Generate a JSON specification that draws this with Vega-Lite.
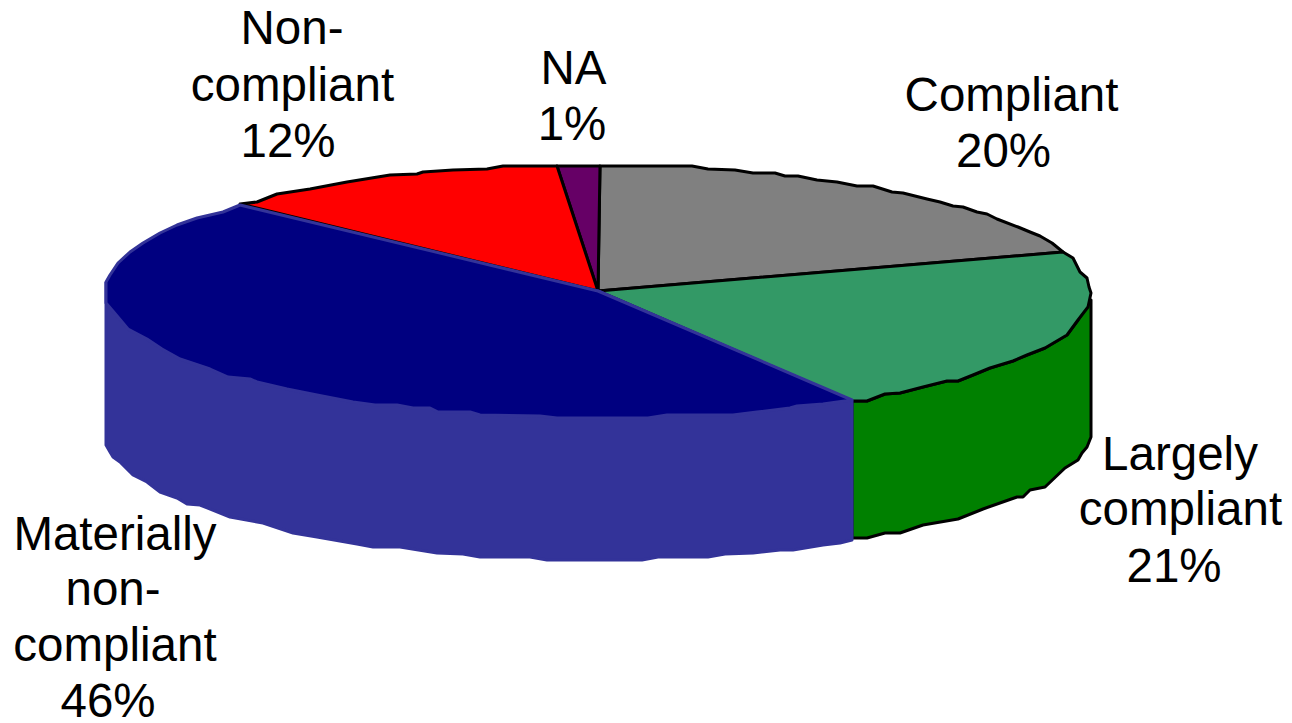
{"$schema":"https://vega.github.io/schema/vega-lite/v6.json","width":1292,"height":723,"padding":0,"autosize":{"type":"none"},"background":"white","view":{"stroke":null},"config":{"axis":{"grid":false}},"layer":[{"data":{"name":"outline","values":[
{"part":"Compliant top","x":598,"y":291},{"part":"Compliant top","x":600,"y":166},{"part":"Compliant top","x":692,"y":166},{"part":"Compliant top","x":708,"y":169},{"part":"Compliant top","x":735,"y":170},{"part":"Compliant top","x":753,"y":173},{"part":"Compliant top","x":775,"y":173},{"part":"Compliant top","x":785,"y":176},{"part":"Compliant top","x":798,"y":176},{"part":"Compliant top","x":817,"y":180},{"part":"Compliant top","x":837,"y":182},{"part":"Compliant top","x":857,"y":186},{"part":"Compliant top","x":873,"y":186},{"part":"Compliant top","x":892,"y":192},{"part":"Compliant top","x":903,"y":193},{"part":"Compliant top","x":927,"y":199},{"part":"Compliant top","x":940,"y":202},{"part":"Compliant top","x":953,"y":206},{"part":"Compliant top","x":963,"y":207},{"part":"Compliant top","x":977,"y":212},{"part":"Compliant top","x":987,"y":214},{"part":"Compliant top","x":997,"y":219},{"part":"Compliant top","x":1018,"y":227},{"part":"Compliant top","x":1030,"y":232},{"part":"Compliant top","x":1040,"y":236},{"part":"Compliant top","x":1052,"y":243},{"part":"Compliant top","x":1063,"y":252},{"part":"Compliant top","x":598,"y":291},
{"part":"Largely side","x":852,"y":401},{"part":"Largely side","x":867,"y":401},{"part":"Largely side","x":885,"y":394},{"part":"Largely side","x":900,"y":393},{"part":"Largely side","x":923,"y":387},{"part":"Largely side","x":947,"y":381},{"part":"Largely side","x":958,"y":381},{"part":"Largely side","x":973,"y":375},{"part":"Largely side","x":990,"y":368},{"part":"Largely side","x":1013,"y":361},{"part":"Largely side","x":1027,"y":355},{"part":"Largely side","x":1045,"y":348},{"part":"Largely side","x":1067,"y":335},{"part":"Largely side","x":1078,"y":320},{"part":"Largely side","x":1091,"y":300},{"part":"Largely side","x":1091,"y":437},{"part":"Largely side","x":1087,"y":447},{"part":"Largely side","x":1082,"y":453},{"part":"Largely side","x":1078,"y":460},{"part":"Largely side","x":1065,"y":468},{"part":"Largely side","x":1045,"y":487},{"part":"Largely side","x":1030,"y":490},{"part":"Largely side","x":1023,"y":497},{"part":"Largely side","x":1017,"y":497},{"part":"Largely side","x":983,"y":509},{"part":"Largely side","x":958,"y":519},{"part":"Largely side","x":923,"y":525},{"part":"Largely side","x":900,"y":533},{"part":"Largely side","x":885,"y":533},{"part":"Largely side","x":867,"y":538},{"part":"Largely side","x":852,"y":538},{"part":"Largely side","x":852,"y":401},
{"part":"Largely top","x":598,"y":291},{"part":"Largely top","x":1063,"y":252},{"part":"Largely top","x":1073,"y":258},{"part":"Largely top","x":1080,"y":272},{"part":"Largely top","x":1087,"y":278},{"part":"Largely top","x":1089,"y":287},{"part":"Largely top","x":1091,"y":293},{"part":"Largely top","x":1088,"y":307},{"part":"Largely top","x":1078,"y":320},{"part":"Largely top","x":1067,"y":335},{"part":"Largely top","x":1045,"y":348},{"part":"Largely top","x":1027,"y":355},{"part":"Largely top","x":1013,"y":361},{"part":"Largely top","x":990,"y":368},{"part":"Largely top","x":973,"y":375},{"part":"Largely top","x":958,"y":381},{"part":"Largely top","x":947,"y":381},{"part":"Largely top","x":923,"y":387},{"part":"Largely top","x":900,"y":393},{"part":"Largely top","x":885,"y":394},{"part":"Largely top","x":867,"y":401},{"part":"Largely top","x":852,"y":401},{"part":"Largely top","x":598,"y":291},
{"part":"NA top","x":598,"y":291},{"part":"NA top","x":557,"y":166},{"part":"NA top","x":600,"y":166},{"part":"NA top","x":598,"y":291},
{"part":"Non-compliant top","x":598,"y":291},{"part":"Non-compliant top","x":240,"y":204},{"part":"Non-compliant top","x":257,"y":202},{"part":"Non-compliant top","x":277,"y":194},{"part":"Non-compliant top","x":310,"y":189},{"part":"Non-compliant top","x":347,"y":182},{"part":"Non-compliant top","x":390,"y":175},{"part":"Non-compliant top","x":417,"y":174},{"part":"Non-compliant top","x":423,"y":172},{"part":"Non-compliant top","x":453,"y":170},{"part":"Non-compliant top","x":487,"y":169},{"part":"Non-compliant top","x":503,"y":166},{"part":"Non-compliant top","x":557,"y":166},{"part":"Non-compliant top","x":598,"y":291},
{"part":"Materially side","x":106,"y":282},{"part":"Materially side","x":106,"y":445},{"part":"Materially side","x":110,"y":452},{"part":"Materially side","x":113,"y":457},{"part":"Materially side","x":120,"y":462},{"part":"Materially side","x":133,"y":475},{"part":"Materially side","x":147,"y":482},{"part":"Materially side","x":160,"y":492},{"part":"Materially side","x":177,"y":498},{"part":"Materially side","x":187,"y":504},{"part":"Materially side","x":200,"y":505},{"part":"Materially side","x":230,"y":517},{"part":"Materially side","x":263,"y":523},{"part":"Materially side","x":293,"y":533},{"part":"Materially side","x":317,"y":537},{"part":"Materially side","x":357,"y":544},{"part":"Materially side","x":373,"y":547},{"part":"Materially side","x":400,"y":547},{"part":"Materially side","x":437,"y":553},{"part":"Materially side","x":463,"y":554},{"part":"Materially side","x":480,"y":557},{"part":"Materially side","x":530,"y":557},{"part":"Materially side","x":547,"y":560},{"part":"Materially side","x":642,"y":560},{"part":"Materially side","x":658,"y":557},{"part":"Materially side","x":708,"y":557},{"part":"Materially side","x":725,"y":554},{"part":"Materially side","x":753,"y":553},{"part":"Materially side","x":780,"y":550},{"part":"Materially side","x":793,"y":550},{"part":"Materially side","x":823,"y":545},{"part":"Materially side","x":840,"y":543},{"part":"Materially side","x":852,"y":540},{"part":"Materially side","x":852,"y":401},{"part":"Materially side","x":598,"y":291},{"part":"Materially side","x":106,"y":282},
{"part":"Materially top","x":598,"y":291},{"part":"Materially top","x":852,"y":400},{"part":"Materially top","x":823,"y":404},{"part":"Materially top","x":797,"y":406},{"part":"Materially top","x":790,"y":408},{"part":"Materially top","x":757,"y":412},{"part":"Materially top","x":733,"y":415},{"part":"Materially top","x":667,"y":415},{"part":"Materially top","x":648,"y":418},{"part":"Materially top","x":557,"y":418},{"part":"Materially top","x":540,"y":416},{"part":"Materially top","x":480,"y":415},{"part":"Materially top","x":470,"y":412},{"part":"Materially top","x":438,"y":412},{"part":"Materially top","x":430,"y":408},{"part":"Materially top","x":413,"y":408},{"part":"Materially top","x":397,"y":405},{"part":"Materially top","x":375,"y":405},{"part":"Materially top","x":353,"y":402},{"part":"Materially top","x":317,"y":395},{"part":"Materially top","x":287,"y":389},{"part":"Materially top","x":257,"y":382},{"part":"Materially top","x":250,"y":379},{"part":"Materially top","x":228,"y":377},{"part":"Materially top","x":210,"y":369},{"part":"Materially top","x":180,"y":359},{"part":"Materially top","x":162,"y":349},{"part":"Materially top","x":147,"y":339},{"part":"Materially top","x":128,"y":329},{"part":"Materially top","x":112,"y":310},{"part":"Materially top","x":106,"y":303},{"part":"Materially top","x":106,"y":282},{"part":"Materially top","x":110,"y":275},{"part":"Materially top","x":118,"y":263},{"part":"Materially top","x":130,"y":252},{"part":"Materially top","x":143,"y":243},{"part":"Materially top","x":160,"y":233},{"part":"Materially top","x":177,"y":225},{"part":"Materially top","x":197,"y":218},{"part":"Materially top","x":223,"y":212},{"part":"Materially top","x":240,"y":205},{"part":"Materially top","x":598,"y":291}
]},"transform":[{"window":[{"op":"row_number","as":"seq"}]}],"mark":{"type":"line","strokeJoin":"round","interpolate":"linear","clip":false},"encoding":{"x":{"field":"x","type":"quantitative","axis":null,"scale":{"domain":[0,1292],"nice":false,"zero":false}},"y":{"field":"y","type":"quantitative","axis":null,"scale":{"domain":[723,0],"nice":false,"zero":false}},"detail":{"field":"part"},"order":{"field":"seq"},"fill":{"field":"part","type":"nominal","legend":null,"scale":{"domain":["Compliant top","Largely side","Largely top","NA top","Non-compliant top","Materially side","Materially top"],"range":["#808080","#008000","#339966","#660066","#FF0000","#333399","#000080"]}},"stroke":{"field":"part","type":"nominal","legend":null,"scale":{"domain":["Compliant top","Largely side","Largely top","NA top","Non-compliant top","Materially side","Materially top"],"range":["#000000","#000000","#000000","#000000","#000000","#333399","#333399"]}},"strokeWidth":{"field":"part","type":"nominal","legend":null,"scale":{"domain":["Compliant top","Largely side","Largely top","NA top","Non-compliant top","Materially side","Materially top"],"range":[3,3,3,3,3,2,2]}}}},
{"data":{"name":"labels","values":[
{"label":"Compliant","x":1011.5,"y":111},{"label":"20%","x":1003.5,"y":167},
{"label":"Largely","x":1180,"y":470},{"label":"compliant","x":1180.5,"y":525},{"label":"21%","x":1174,"y":582},
{"label":"Materially","x":115,"y":550},{"label":"non-","x":113,"y":605},{"label":"compliant","x":115,"y":661},{"label":"46%","x":108,"y":717},
{"label":"Non-","x":292,"y":44},{"label":"compliant","x":292.5,"y":101},{"label":"12%","x":288,"y":157},
{"label":"NA","x":573.5,"y":84},{"label":"1%","x":572,"y":140}
]},"mark":{"type":"text","font":"Liberation Sans","fontSize":47.5,"align":"center","baseline":"alphabetic","color":"#000000"},"encoding":{"x":{"field":"x","type":"quantitative","axis":null,"scale":{"domain":[0,1292],"nice":false,"zero":false}},"y":{"field":"y","type":"quantitative","axis":null,"scale":{"domain":[723,0],"nice":false,"zero":false}},"text":{"field":"label","type":"nominal"}}}
]}
